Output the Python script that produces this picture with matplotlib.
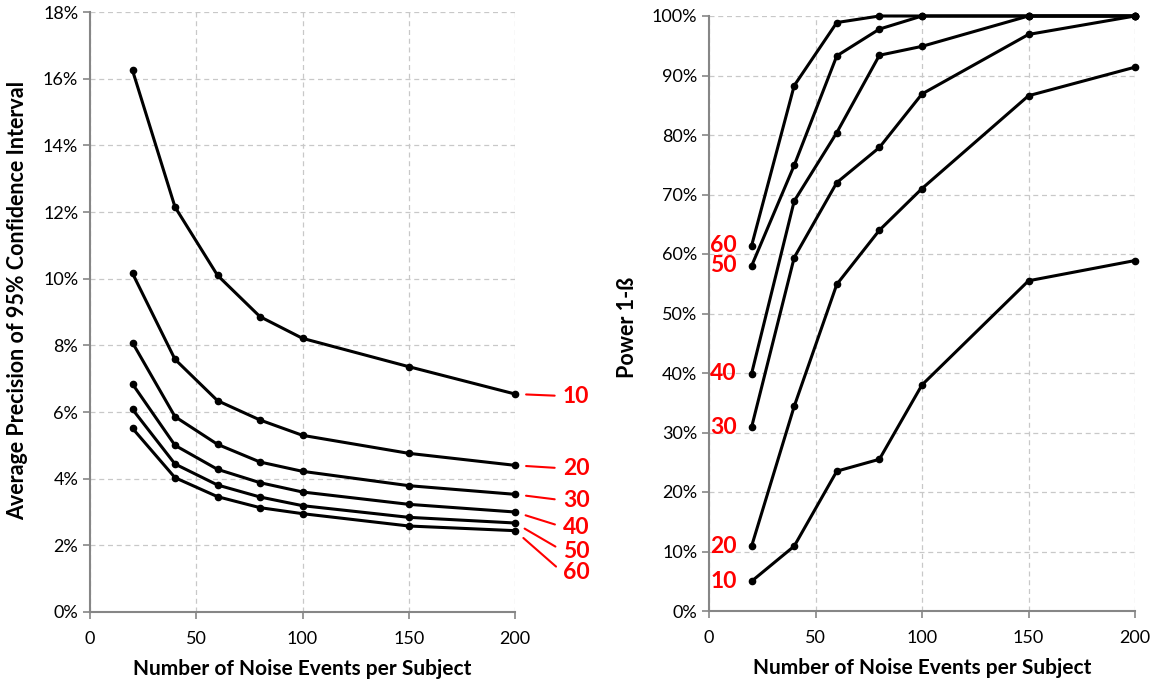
import numpy as np
import matplotlib.pyplot as plt
from matplotlib.ticker import FuncFormatter

plt.rcParams['font.family'] = ['Lato', 'DejaVu Sans']

# noise events per subject (x axis, shared by both panels)
events = [20, 40, 60, 80, 100, 150, 200]
groups = [10, 20, 30, 40, 50, 60]

# average precision of the 95% CI, in percent, one list per group size
precision = {
    10: [16.25, 12.15, 10.10, 8.86, 8.21, 7.36, 6.54],
    20: [10.16, 7.58, 6.34, 5.76, 5.30, 4.76, 4.40],
    30: [8.08, 5.86, 5.03, 4.50, 4.22, 3.79, 3.53],
    40: [6.84, 5.00, 4.28, 3.88, 3.60, 3.23, 3.00],
    50: [6.08, 4.44, 3.81, 3.45, 3.19, 2.84, 2.67],
    60: [5.51, 4.03, 3.46, 3.13, 2.95, 2.58, 2.44],
}

# power (1 - beta), in percent
power = {
    10: [5.0, 10.9, 23.5, 25.5, 38.0, 55.5, 58.9],
    20: [10.9, 34.4, 54.9, 64.0, 71.0, 86.6, 91.4],
    30: [30.9, 59.4, 72.0, 77.9, 86.9, 96.9, 100.0],
    40: [39.9, 68.9, 80.4, 93.4, 94.9, 100.0, 100.0],
    50: [58.0, 74.9, 93.3, 97.8, 100.0, 100.0, 100.0],
    60: [61.4, 88.3, 98.9, 100.0, 100.0, 100.0, 100.0],
}

# pixel offsets of the red group labels on the left panel
left_label_dy = {10: 2, 20: 3, 30: 6, 40: 15, 50: 28, 60: 42}

fig = plt.figure(figsize=(11.57, 6.83), dpi=100)
ax1 = fig.add_axes([90 / 1157, 1 - 612 / 683, 425 / 1157, 600 / 683])
ax2 = fig.add_axes([709 / 1157, 1 - 611 / 683, 426 / 1157, 595 / 683])

pct = FuncFormatter(lambda v, p: f"{v:.0f}%")
spine_col = "#868686"

for ax in (ax1, ax2):
    ax.set_xlim(0, 200)
    ax.set_xticks([0, 50, 100, 150, 200])
    ax.grid(True, color="#c8c8c8", linestyle=(0, (4, 3)), linewidth=0.9)
    ax.set_axisbelow(True)
    for s in ("top", "right"):
        ax.spines[s].set_visible(False)
    for s in ("left", "bottom"):
        ax.spines[s].set_color(spine_col)
        ax.spines[s].set_linewidth(1.5)
    ax.tick_params(axis="both", colors=spine_col, labelcolor="black",
                   labelsize=13, length=5, width=1.2)
    ax.tick_params(axis="x", pad=9)
    ax.yaxis.set_major_formatter(pct)
    ax.set_xlabel("Number of Noise Events per Subject", fontsize=15,
                  fontweight="bold", labelpad=8)
    ax.margins(0)

# left panel: precision
for g in groups:
    ax1.plot(events, precision[g], color="black", lw=2.2, marker="o",
             markersize=4.5, clip_on=False, zorder=3)
    ax1.annotate(str(g), xy=(events[-1], precision[g][-1]),
                 xytext=(48, -left_label_dy[g]), textcoords="offset pixels",
                 ha="left", va="center", color="red", fontsize=16.5,
                 fontweight="bold", annotation_clip=False,
                 arrowprops=dict(arrowstyle="-", color="red", lw=1.5,
                                 shrinkA=4, shrinkB=8, relpos=(0, 0.5)))
ax1.set_ylim(0, 18)
ax1.set_yticks(np.arange(0, 19, 2))
ax1.set_ylabel("Average Precision of 95% Confidence Interval", fontsize=15.5,
               fontweight="bold")
ax1.yaxis.set_label_coords(-0.145, 0.52)

# right panel: power
for g in groups:
    ax2.plot(events, power[g], color="black", lw=2.2, marker="o",
             markersize=4.5, clip_on=False, zorder=3)
    ax2.annotate(str(g), xy=(events[0], power[g][0]), xytext=(-15, 0),
                 textcoords="offset pixels", ha="right", va="center",
                 color="red", fontsize=16.5, fontweight="bold")
ax2.set_ylim(0, 100)
ax2.set_yticks(np.arange(0, 101, 10))
ax2.set_ylabel("Power 1-ß", fontsize=15.5, fontweight="bold")
ax2.yaxis.set_label_coords(-0.167, 0.477)

fig.savefig("out.png", dpi=100)
